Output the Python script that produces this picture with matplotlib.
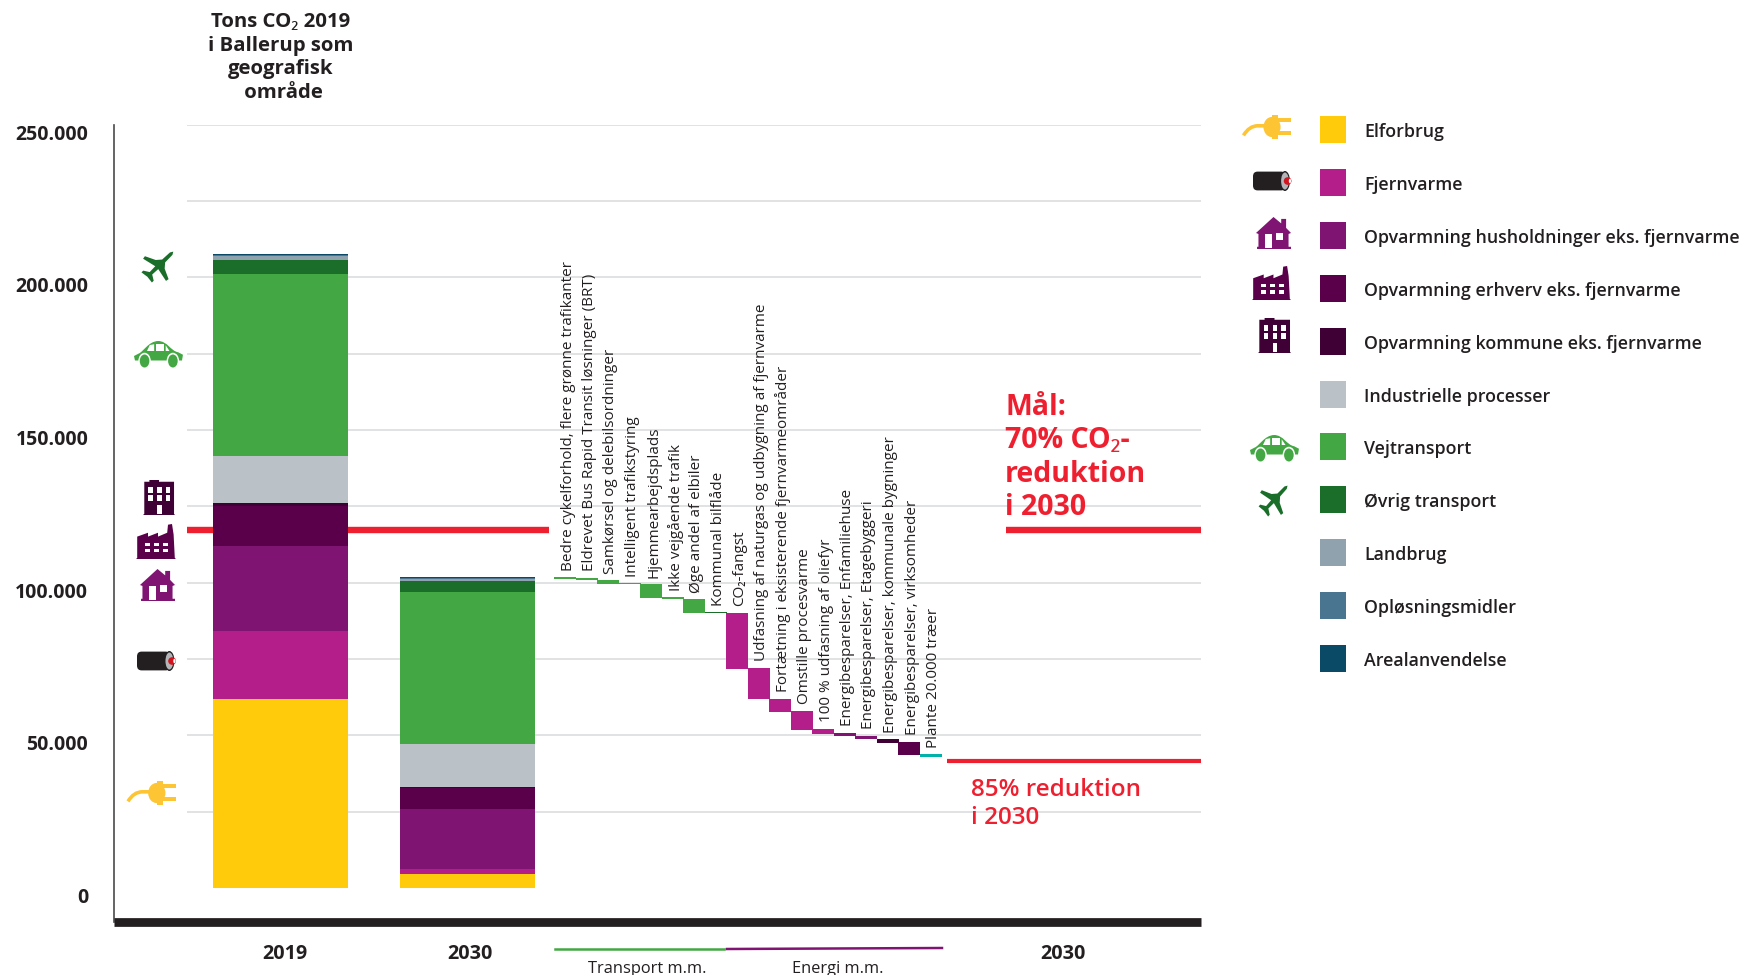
import numpy as np
import matplotlib
matplotlib.use("Agg")
import matplotlib.pyplot as plt
from matplotlib.patches import Polygon, Rectangle, Ellipse, FancyBboxPatch, PathPatch
from matplotlib.path import Path
from matplotlib.transforms import Affine2D

plt.rcParams['font.family'] = ['Open Sans', 'Noto Sans', 'DejaVu Sans']

# stablede søjler, tons CO2
kategorier = ["Elforbrug", "Fjernvarme", "Opvarmning husholdninger eks. fjernvarme",
              "Opvarmning erhverv eks. fjernvarme", "Opvarmning kommune eks. fjernvarme",
              "Industrielle processer", "Vejtransport", "Øvrig transport", "Landbrug",
              "Opløsningsmidler", "Arealanvendelse"]
farver = ["#ffcb0b", "#b31e8a", "#801472", "#5a004b", "#3f0035", "#bac2c8",
          "#43a843", "#1a6e2a", "#8fa2ae", "#4a7590", "#0b4a66"]
tons_2019 = [62040, 22000, 27900, 13260, 920, 15350, 59520, 4750, 1100, 400, 260]
tons_2030 = [4580, 1640, 19640, 7040, 160, 14080, 49760, 3600, 820, 330, 160]

# vandfald: virkemidler
virkemidler = ["Bedre cykelforhold, flere grønne trafikanter",
               "Eldrevet Bus Rapid Transit løsninger (BRT)",
               "Samkørsel og delebilsordninger",
               "Intelligent trafikstyring",
               "Hjemmearbejdsplads",
               "Ikke vejgående trafik",
               "Øge andel af elbiler",
               "Kommunal bilflåde",
               "CO₂-fangst",
               "Udfasning af naturgas og udbygning af fjernvarme",
               "Fortætning i eksisterende fjernvarmeområder",
               "Omstille procesvarme",
               "100 % udfasning af oliefyr",
               "Energibesparelser, Enfamiliehuse",
               "Energibesparelser, Etagebyggeri",
               "Energibesparelser, kommunale bygninger",
               "Energibesparelser, virksomheder",
               "Plante 20.000 træer"]
virk_top = [101820, 101500, 100840, 99860, 99530, 95270, 94620, 90360, 90040,
            72030, 61880, 57950, 52060, 50750, 49770, 48780, 47800, 43870]
virk_red = [560, 560, 1310, 330, 4580, 650, 4580, 330, 18330,
            10150, 4260, 6220, 1640, 980, 980, 1310, 4260, 980]
virk_farve = ["#43a843"] * 3 + ["#43a843", "#43a843", "#43a843", "#43a843", "#1a6e2a"] + \
             ["#b31e8a"] * 5 + ["#801472", "#801472", "#3f0035", "#5a004b", "#00b2a9"]

maal_70 = 117200
maal_85 = 41580
yticks = [0, 50000, 100000, 150000, 200000, 250000]
ylabels = ["0", "50.000", "100.000", "150.000", "200.000", "250.000"]
grid_y = [25000 * i for i in range(1, 11)]

W, H = 1762, 975
TXT = "#231f20"
RED = "#ee2030"

fig = plt.figure(figsize=(W / 100, H / 100), dpi=100)
ax = fig.add_axes([114 / W, 1 - 922 / H, (1201 - 114) / W, (922 - 124.5) / H])
ax.set_xlim(114, 1201)
ax.set_ylim(-11130, 250000)
ax.patch.set_alpha(0)

# overlay i pixels til ikoner og signaturforklaring
pax = fig.add_axes([0, 0, 1, 1], zorder=5)
pax.set_xlim(0, W)
pax.set_ylim(H, 0)
pax.axis("off")

for s in ["top", "right"]:
    ax.spines[s].set_visible(False)
ax.spines["left"].set_color("#4a4a4a")
ax.spines["left"].set_linewidth(1.2)
ax.spines["bottom"].set_color(TXT)
ax.spines["bottom"].set_linewidth(6.3)
ax.spines["bottom"].set_capstyle("butt")

ax.hlines(grid_y, 187, 1201, color="#dcdddf", lw=1.2, zorder=1)
ax.hlines(maal_70, 187, 549, color=RED, lw=4.6, zorder=2)
ax.hlines(maal_70, 1006, 1201, color=RED, lw=4.6, zorder=2)
ax.hlines(maal_85, 947, 1201, color=RED, lw=3.0, zorder=2)

# stablede søjler
bund_2019 = 0
bund_2030 = 0
for i, navn in enumerate(kategorier):
    ax.bar(280.5, tons_2019[i], width=135, bottom=bund_2019, color=farver[i], zorder=3)
    ax.bar(467.5, tons_2030[i], width=135, bottom=bund_2030, color=farver[i], zorder=3)
    bund_2019 += tons_2019[i]
    bund_2030 += tons_2030[i]

# vandfald
for i, navn in enumerate(virkemidler):
    xc = 565 + 21.5 * i
    ax.bar(xc, virk_red[i], width=22, bottom=virk_top[i] - virk_red[i],
           color=virk_farve[i], zorder=3)
    ax.annotate(navn, (xc + 3, virk_top[i]), xytext=(0, 4.7), textcoords="offset points",
                rotation=90, ha="center", va="bottom", fontsize=11.0, color=TXT, zorder=4)

# akser
ax.set_yticks(yticks)
ax.set_yticklabels(ylabels, fontsize=14, fontweight="bold", color=TXT, va="top")
ax.tick_params(axis="y", length=0, pad=18.5)
ax.set_xticks([285, 470, 1063])
ax.set_xticklabels(["2019", "2030", "2030"], fontsize=14.2, fontweight="bold", color=TXT)
ax.tick_params(axis="x", length=0, pad=15.5)

pax.text(281, 57.5, "Tons CO₂ 2019\ni Ballerup som\ngeografisk\n område", ha="center", va="center",
         fontsize=14.7, fontweight="bold", color=TXT, linespacing=1.25)
pax.text(1005, 457.5, "Mål:\n70% CO₂-\nreduktion\ni 2030", ha="left", va="center",
         fontsize=20.5, fontweight="bold", color=RED, linespacing=1.19)
pax.text(971, 804, "85% reduktion\ni 2030", ha="left", va="center",
         fontsize=17.5, fontweight="semibold", color=RED, linespacing=1.2)

pax.plot([555, 724], [949, 949], color="#43a843", lw=1.8)
pax.plot([727, 942], [949, 948], color="#801472", lw=1.8)
pax.text(647, 969, "Transport m.m.", ha="center", va="center", fontsize=11.8, color=TXT)
pax.text(838, 969, "Energi m.m.", ha="center", va="center", fontsize=11.8, color=TXT)

# signaturforklaring
for i, navn in enumerate(kategorier):
    yc = 129.5 + 52.9 * i
    pax.add_patch(Rectangle((1320, yc - 13.5), 26, 27, color=farver[i], lw=0))
    pax.text(1364, yc + 2.5, navn, ha="left", va="center", fontsize=12.8,
             fontweight="semibold", color=TXT)


# ikoner, tegnet i enhedskoordinater med y nedad
def box(x0, y0, x1, y1):
    return Affine2D().scale(x1 - x0, y1 - y0).translate(x0, y0) + pax.transData


def poly(tf, pts, col):
    pax.add_patch(Polygon(pts, closed=True, facecolor=col, edgecolor="none", transform=tf))


def rect(tf, x, y, w, h, col):
    pax.add_patch(Rectangle((x, y), w, h, facecolor=col, edgecolor="none", transform=tf))


def plug(x0, y0, x1, y1):
    tf = box(x0, y0, x1, y1)
    col = "#fdc533"
    verts = [(0.0, 0.85), (0.12, 0.45), (0.30, 0.45), (0.45, 0.45)]
    pax.add_patch(PathPatch(Path(verts, [Path.MOVETO, Path.CURVE3, Path.CURVE3, Path.LINETO]),
                            facecolor="none", edgecolor=col, lw=2.6, transform=tf))
    pax.add_patch(Ellipse((0.6, 0.5), 0.36, 0.84, facecolor=col, edgecolor="none", transform=tf))
    rect(tf, 0.6, 0.0, 0.12, 1.0, col)
    rect(tf, 0.7, 0.12, 0.3, 0.18, col)
    rect(tf, 0.7, 0.66, 0.3, 0.18, col)


def cable(x0, y0, x1, y1):
    tf = box(x0, y0, x1, y1)
    pax.add_patch(FancyBboxPatch((0.0, 0.03), 0.85, 0.94, boxstyle="round,pad=0,rounding_size=0.12",
                                 mutation_aspect=2.0, facecolor=TXT, edgecolor="none", transform=tf))
    pax.add_patch(Ellipse((0.83, 0.5), 0.26, 1.0, facecolor=TXT, edgecolor="none", transform=tf))
    pax.add_patch(Ellipse((0.83, 0.5), 0.2, 0.85, facecolor="#b3b5b8", edgecolor="none", transform=tf))
    pax.add_patch(Ellipse((0.9, 0.5), 0.2, 0.38, facecolor="#d2141e", edgecolor="none", transform=tf))
    pax.add_patch(Ellipse((0.96, 0.5), 0.06, 0.22, facecolor="white", edgecolor="none", transform=tf))


def house(x0, y0, x1, y1):
    tf = box(x0, y0, x1, y1)
    col = "#801472"
    poly(tf, [(0.5, 0), (0.72, 0.2), (0.72, 0.06), (0.86, 0.06), (0.86, 0.34), (1, 0.5), (0.93, 0.53),
              (0.93, 0.93), (1, 0.93), (1, 1), (0.03, 1), (0.03, 0.93), (0.07, 0.93), (0.07, 0.53), (0, 0.5)], col)
    rect(tf, 0.25, 0.52, 0.22, 0.44, "white")
    rect(tf, 0.58, 0.5, 0.2, 0.22, "white")


def factory(x0, y0, x1, y1):
    tf = box(x0, y0, x1, y1)
    col = "#5a004b"
    poly(tf, [(0.03, 0.36), (0.3, 0.25), (0.3, 0.36), (0.55, 0.25), (0.55, 0.36), (0.78, 0.25),
              (0.8, 0.02), (0.9, 0.0), (0.94, 0.3), (0.97, 0.97), (1, 1), (0, 1), (0.03, 0.97)], col)
    for j in range(3):
        rect(tf, 0.22 + j * 0.23, 0.54, 0.13, 0.09, "white")
        rect(tf, 0.22 + j * 0.23, 0.72, 0.13, 0.09, "white")


def building(x0, y0, x1, y1):
    tf = box(x0, y0, x1, y1)
    col = "#3f0035"
    poly(tf, [(0.04, 0.05), (0.2, 0.05), (0.2, 0), (0.5, 0), (0.5, 0.05), (0.97, 0.05), (0.97, 0.97),
              (1, 1), (0, 1), (0.04, 0.97)], col)
    for r in range(2):
        for c in range(3):
            rect(tf, 0.17 + c * 0.27, 0.2 + r * 0.24, 0.14, 0.16, "white")
    rect(tf, 0.44, 0.72, 0.14, 0.24, "white")


def car(x0, y0, x1, y1):
    tf = box(x0, y0, x1, y1)
    col = "#43a843"
    verts = [(0.02, 0.78), (0.0, 0.6), (0.1, 0.5), (0.2, 0.42), (0.3, 0.02), (0.5, 0.0), (0.7, 0.0),
             (0.76, 0.4), (0.92, 0.45), (1.02, 0.55), (1.0, 0.78), (0.02, 0.78), (0.02, 0.78)]
    codes = [Path.MOVETO, Path.LINETO, Path.LINETO, Path.CURVE4, Path.CURVE4, Path.CURVE4, Path.CURVE4,
             Path.CURVE4, Path.CURVE4, Path.LINETO, Path.LINETO, Path.LINETO, Path.CLOSEPOLY]
    pax.add_patch(PathPatch(Path(verts, codes), facecolor=col, edgecolor="none", transform=tf))
    poly(tf, [(0.27, 0.4), (0.33, 0.16), (0.42, 0.13), (0.42, 0.4)], "white")
    poly(tf, [(0.45, 0.12), (0.63, 0.12), (0.63, 0.4), (0.45, 0.4)], "white")
    poly(tf, [(0.66, 0.17), (0.74, 0.4), (0.66, 0.4)], "white")
    for cx in [0.22, 0.81]:
        pax.add_patch(Ellipse((cx, 0.8), 0.26, 0.66, facecolor="white", edgecolor="none", transform=tf))
        pax.add_patch(Ellipse((cx, 0.8), 0.2, 0.52, facecolor=col, edgecolor="none", transform=tf))


def plane(x0, y0, x1, y1):
    tf = box(x0, y0, x1, y1)
    col = "#1a6e2a"
    half = [(1, 0), (0.85, 0.1), (0.3, 0.12), (0.05, 0.36), (-0.2, 0.95), (-0.36, 0.92), (-0.2, 0.12),
            (-0.62, 0.1), (-0.8, 0.42), (-0.93, 0.42), (-0.88, 0.0)]
    other = [(u, -v) for u, v in half[::-1][1:-1]]
    pts = []
    for u, v in half + other:
        pts.append((0.5 + 0.58 * (u * 0.72 + v * 0.65), 0.5 - 0.58 * (u * 0.72 - v * 0.65)))
    poly(tf, pts, col)


# ved søjlerne
plane(143, 249, 176, 281)
car(134, 341, 182, 366)
building(143, 480, 175, 515)
factory(136, 524, 176, 559)
house(140, 569, 175, 601)
cable(137, 651, 176, 671)
plug(128, 781, 176, 805)
# ved forklaringen
plug(1243.5, 115, 1291, 139)
cable(1253, 171, 1291.5, 191)
house(1256, 217, 1291, 249)
factory(1252, 266, 1291, 300)
building(1258, 318, 1291, 353)
car(1250, 435, 1298, 460)
plane(1260, 483, 1290, 515)

fig.savefig("out.png", dpi=100)
